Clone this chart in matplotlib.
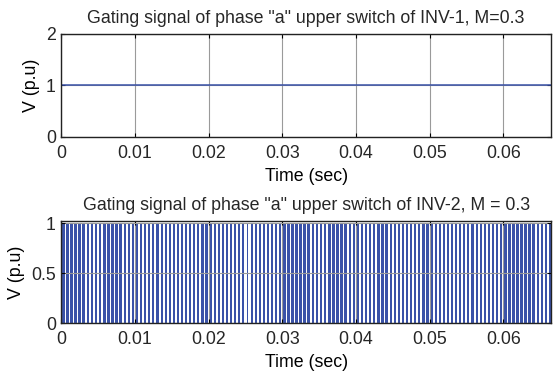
import numpy as np
import matplotlib
matplotlib.use("Agg")
import matplotlib.pyplot as plt

plt.rcParams['font.family'] = ['Liberation Sans', 'DejaVu Sans']
plt.rcParams['text.color'] = '#262626'
plt.rcParams['xtick.labelcolor'] = '#262626'
plt.rcParams['ytick.labelcolor'] = '#262626'

# --- data ---
t_end = 0.0665
x_ticks = [0, 0.01, 0.02, 0.03, 0.04, 0.05, 0.06]
x_ticklabels = ['0', '0.01', '0.02', '0.03', '0.04', '0.05', '0.06']

# INV-1: constant gating signal
inv1_t = [0.0, t_end]
inv1_v = [1.0, 1.0]
inv1_yticks = [0, 1, 2]

# INV-2: PWM gating signal, ~18 carrier periods per 10 ms
carrier_period = 0.01 / 18
inv2_duty = [
    0.76, 0.74, 0.72, 0.70, 0.68, 0.70, 0.64, 0.66, 0.62, 0.64, 0.60, 0.62, 0.58, 0.60, 0.56, 0.60, 0.54, 0.58,
    0.56, 0.54, 0.52, 0.56, 0.50, 0.54, 0.48, 0.52, 0.50, 0.46, 0.52, 0.48, 0.50, 0.46, 0.52, 0.50, 0.54, 0.52,
    0.50, 0.46, 0.48, 0.44, 0.46, 0.48, 0.42, 0.46, 0.48, 0.44, 0.50, 0.52, 0.48, 0.54, 0.56, 0.52, 0.60, 0.64,
    0.70, 0.74, 0.72, 0.76, 0.74, 0.70, 0.72, 0.68, 0.70, 0.66, 0.64, 0.68, 0.62, 0.60, 0.64, 0.58, 0.60, 0.56,
    0.60, 0.56, 0.58, 0.54, 0.56, 0.60, 0.52, 0.56, 0.54, 0.50, 0.56, 0.52, 0.54, 0.50, 0.54, 0.52, 0.56, 0.54,
    0.52, 0.50, 0.48, 0.52, 0.46, 0.50, 0.48, 0.52, 0.46, 0.50, 0.52, 0.48, 0.54, 0.56, 0.52, 0.60, 0.62, 0.66,
    0.70, 0.74, 0.72, 0.76, 0.74, 0.72, 0.70, 0.74, 0.68, 0.70, 0.66, 0.68, 0.64, 0.66,
]
inv2_yticks = [0, 0.5, 1]
inv2_yticklabels = ['0', '0.5', '1']

blue = '#3a52a8'
grid_c = '#9a9a9a'
fs = 12.8

fig = plt.figure(figsize=(5.55, 3.78), dpi=100)
ax1 = fig.add_axes([0.1105, 0.6376, 0.8823, 0.2725])
ax2 = fig.add_axes([0.1105, 0.1455, 0.8823, 0.2698])

# top panel
ax1.plot(inv1_t, inv1_v, color=blue, lw=1.1, zorder=3)
ax1.set_ylim(0, 2)
ax1.set_yticks(inv1_yticks)
ax1.set_title('Gating signal of phase "a" upper switch of INV-1, M=0.3', fontsize=fs, pad=8)

# bottom panel: one pulse per carrier period, centred in the period
starts = [i * carrier_period + (1 - d) * carrier_period / 2 for i, d in enumerate(inv2_duty)]
widths = [d * carrier_period for d in inv2_duty]
ax2.bar(starts, [1.0] * len(starts), width=widths, align='edge', color=blue,
        edgecolor='none', linewidth=0, zorder=1)
ax2.set_ylim(0, 1.02)
ax2.set_yticks(inv2_yticks)
ax2.set_yticklabels(inv2_yticklabels)
ax2.set_title('Gating signal of phase "a" upper switch of INV-2, M = 0.3', fontsize=fs, pad=8)

for ax in (ax1, ax2):
    ax.set_xlim(0, t_end)
    ax.set_xticks(x_ticks)
    ax.set_xticklabels(x_ticklabels)
    ax.grid(True, color=grid_c, lw=0.8, zorder=2)
    ax.set_axisbelow(False)
    ax.tick_params(direction='in', top=True, right=True, labelsize=fs, length=3, pad=6)
    ax.tick_params(axis='y', pad=4)
    ax.set_xlabel('Time (sec)', fontsize=fs, labelpad=4)
    ax.set_ylabel('V (p.u)', fontsize=fs, labelpad=4)
    for s in ax.spines.values():
        s.set_linewidth(1.0)
        s.set_color('#222222')
        s.set_zorder(4)

fig.savefig('out.png', dpi=100)
